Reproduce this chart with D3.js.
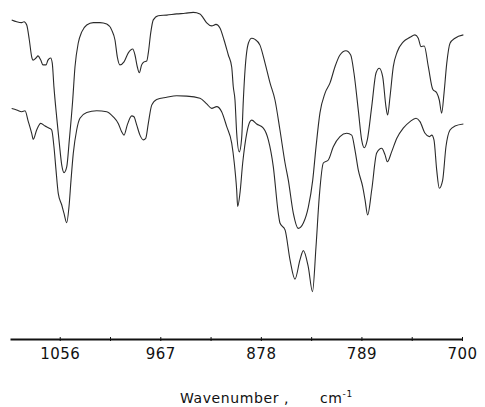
<!DOCTYPE html>
<html>
<head>
<meta charset="utf-8">
<script src="https://cdn.jsdelivr.net/npm/d3@7"></script>
<style>
  body { margin: 0; background: #fff; }
  svg { display: block; }
  .trace { fill: none; stroke: #2a2a2a; stroke-width: 1.1; }
</style>
</head>
<body>
<svg width="485" height="407"></svg>
<script>
// upper spectrum (wavenumber, cm-1 / relative transmittance)
var topWavenumber = [1098.5,1094.1,1089.6,1087.6,1085.2,1082.9,1080.8,1079.6,1077.0,1075.2,
  1072.8,1070.8,1068.1,1066.4,1064.0,1062.6,1061.1,1058.7,1056.4,1054.2,
  1052.2,1049.8,1047.5,1044.5,1042.5,1039.6,1036.5,1032.1,1026.3,1020.4,
  1014.4,1010.0,1007.1,1005.0,1002.7,999.1,995.3,991.4,989.4,987.3,
  985.6,983.5,981.4,979.0,977.6,975.5,973.2,968.8,961.3,952.5,
  945.1,937.8,931.9,928.9,925.9,921.5,917.7,914.2,910.6,906.8,
  903.8,902.4,900.9,899.4,897.1,895.0,893.5,892.0,889.0,886.1,
  883.2,878.8,874.3,869.9,865.5,861.1,856.6,853.7,849.3,844.9,
  840.4,836.0,832.1,829.2,825.7,821.2,816.8,812.4,808.0,802.7,
  798.5,795.6,791.8,788.8,786.5,783.8,779.9,776.1,773.2,770.2,
  767.3,765.8,763.7,760.8,757.3,752.0,746.0,741.6,738.7,736.3,
  733.4,729.8,725.9,722.4,720.1,718.0,715.9,713.5,710.6,706.2,
  698.8];
var topSignal = [96.7,96.1,95.8,96.1,95.0,90.0,84.4,83.3,84.0,84.7,
  83.3,81.7,81.7,83.3,84.0,82.3,74.3,64.3,55.7,48.3,
  45.8,47.7,56.7,70.0,81.0,89.0,92.7,95.0,95.8,95.8,
  95.3,93.3,90.0,84.3,81.7,82.7,85.7,87.0,85.0,81.0,
  79.1,81.7,82.7,83.0,85.7,92.3,96.7,98.1,98.3,98.7,
  98.9,99.2,98.7,97.3,95.7,94.7,95.2,94.0,90.0,85.0,
  81.0,74.4,70.0,59.0,52.7,57.3,70.0,80.0,89.0,90.6,
  90.2,88.3,82.3,75.7,70.0,60.0,49.0,43.3,32.3,27.2,
  29.0,34.3,43.3,54.3,65.7,72.3,75.7,81.1,85.0,86.4,
  85.0,79.0,66.7,56.7,54.1,56.7,67.8,79.0,80.6,77.8,
  67.8,65.0,71.1,81.1,86.1,89.4,90.9,91.7,90.6,87.8,
  88.0,81.1,73.6,72.4,70.0,65.6,72.3,82.2,88.9,90.6,
  91.7];

// lower spectrum
var bottomWavenumber = [1098.5,1094.1,1089.6,1086.7,1083.8,1080.8,1079.4,1076.4,1072.8,1069.0,
  1065.2,1063.1,1061.1,1059.3,1057.3,1054.2,1052.2,1049.8,1047.8,1046.0,
  1044.0,1041.0,1038.1,1032.1,1023.3,1014.4,1008.6,1004.2,1001.2,999.1,
  996.2,992.3,990.3,987.9,985.0,982.0,979.9,977.6,974.6,970.2,
  961.3,952.5,943.6,931.9,925.9,921.5,917.1,912.7,908.2,903.8,
  901.5,899.4,898.5,896.5,894.1,890.5,887.6,886.1,881.7,875.8,
  871.4,867.0,862.6,861.1,856.6,852.2,847.8,843.4,840.4,836.0,
  832.3,829.2,826.3,822.7,818.3,813.9,808.0,802.0,797.6,794.7,
  791.8,787.9,785.8,783.5,779.9,775.5,771.1,768.1,766.1,762.2,
  757.8,752.0,746.0,740.7,737.2,732.7,728.9,726.8,724.8,722.4,
  720.1,717.1,714.2,710.6,706.2,698.8];
var bottomSignal = [67.2,66.7,66.1,66.4,62.8,58.9,56.9,60.0,62.2,61.3,
  60.6,60.0,54.4,46.7,38.9,35.0,32.2,29.1,34.4,43.3,
  52.2,60.0,63.9,65.8,66.4,66.1,64.4,62.2,59.4,58.3,
  61.7,64.7,64.4,61.7,58.3,56.7,57.2,62.2,68.3,70.2,
  70.9,71.4,71.3,70.6,68.7,67.2,67.8,66.1,61.1,55.6,
  48.9,40.0,34.5,38.9,48.9,58.9,62.8,63.3,62.0,60.6,
  56.7,47.8,32.3,29.0,26.7,16.7,10.3,16.7,19.8,14.3,
  6.1,21.1,37.8,49.0,50.0,54.4,57.8,58.9,58.3,53.3,
  46.7,41.1,36.7,31.7,40.0,52.3,53.9,51.7,49.4,52.8,
  57.2,60.6,62.8,63.9,62.8,58.9,57.8,58.3,56.7,46.7,
  40.6,43.3,54.4,60.0,61.3,62.0];

var tickLabels = [1056, 967, 878, 789, 700];
var minorTicks = [1011.5, 922.5, 833.5, 744.5];

var svg = d3.select("svg");
var width = 485, height = 407;

svg.append("rect").attr("width", width).attr("height", height).attr("fill", "#fff");

var xScale = d3.scaleLinear().domain([1100, 700]).range([10, 462]);
var yScale = d3.scaleLinear().domain([0, 100]).range([310, 10]);
var axisY = 339;

var line = d3.line()
  .x(function(d) { return xScale(d[0]); })
  .y(function(d) { return yScale(d[1]); })
  .curve(d3.curveMonotoneX);

var series = [
  d3.zip(topWavenumber, topSignal),
  d3.zip(bottomWavenumber, bottomSignal)
];

svg.selectAll("path.trace")
  .data(series)
  .enter().append("path")
  .attr("class", "trace")
  .attr("d", line);

// axis
var axis = d3.axisBottom(xScale)
  .tickValues(tickLabels.concat(minorTicks))
  .tickSizeInner(2)
  .tickSizeOuter(0)
  .tickPadding(7)
  .tickFormat(function(d) { return tickLabels.indexOf(d) >= 0 ? d : ""; });

var gx = svg.append("g")
  .attr("transform", "translate(0," + axisY + ")")
  .call(axis);

gx.select(".domain").attr("stroke", "#111").attr("stroke-width", 2);
gx.selectAll(".tick line").attr("y1", -2).attr("stroke", "#111").attr("stroke-width", 1);
gx.selectAll(".tick text")
  .attr("font-family", "DejaVu Sans, sans-serif")
  .attr("font-size", "15px")
  .attr("fill", "#111")
  .attr("letter-spacing", "0.5px");

// axis title
var title = svg.append("text")
  .attr("x", 180)
  .attr("y", 403)
  .attr("font-family", "DejaVu Sans, sans-serif")
  .attr("font-size", "14px")
  .attr("fill", "#111")
  .attr("letter-spacing", "0.6px");
title.append("tspan").text("Wavenumber");
title.append("tspan").attr("x", 284).text(",");
title.append("tspan").attr("x", 320).text("cm");
title.append("tspan").attr("dy", -6).attr("font-size", "9px").text("-1");
</script>
</body>
</html>
